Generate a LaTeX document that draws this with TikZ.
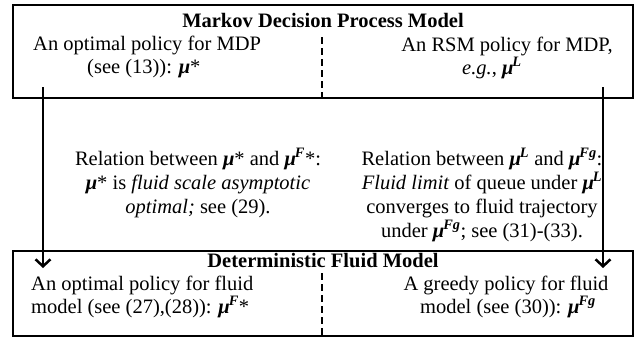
\documentclass[tikz,border=0pt]{standalone}
\usepackage{fontspec}
\setmainfont{Liberation Serif}
\usetikzlibrary{arrows.meta}
\newcommand{\mmu}{\textbf{\textit{μ}}}
\newcommand{\sps}[1]{\kern-1pt\textsuperscript{\textbf{\textit{#1}}}}
\tikzset{
  box/.style={draw, line width=2pt, rectangle, inner sep=0pt},
  txt/.style={inner sep=0pt, font=\fontsize{20.5}{24}\selectfont},
  ttl/.style={txt, font=\fontsize{20.5}{24}\selectfont\bfseries},
  divider/.style={line width=2pt, dash pattern=on 7pt off 4pt},
  arr/.style={line width=2pt, -{Straight Barb[length=7pt,width=15pt,line width=2.5pt]}}
}
\begin{document}
\begin{tikzpicture}[x=1pt,y=-1pt]
\useasboundingbox (0,0) rectangle (639,346);
% boxes
\node[box, minimum width=620pt, minimum height=93pt] (mdp) at (323,51.5) {};
\node[box, minimum width=620pt, minimum height=85pt] (fluid) at (323,293.5) {};
% dividers
\coordinate (d1a) at (322,37);
\coordinate (d1b) at (322,98);
\coordinate (d2a) at (322,273);
\coordinate (d2b) at (322,336);
\draw[divider] (d1a) -- (d1b);
\draw[divider] (d2a) -- (d2b);
% titles
\node[ttl, anchor=base] (t1) at (323,27) {Markov Decision Process Model};
\node[ttl, anchor=base] (t2) at (323,267) {Deterministic Fluid Model};
% top box texts
\node[txt, anchor=base west] (tl1) at (33,50) {An optimal policy for MDP};
\node[txt, anchor=base west] (tl2) at (87,73) {(see (13)): \mmu*};
\node[txt, anchor=base] (tr1) at (507,51) {An RSM policy for MDP,};
\node[txt, anchor=base] (tr2) at (492,74) {\textit{e.g.}, \mmu\sps{L}};
% middle texts
\node[txt, anchor=base] (ml1) at (198,165) {Relation between \mmu* and \mmu\sps{F}*:};
\node[txt, anchor=base] (ml2) at (198,189) {\mmu* is \textit{fluid scale asymptotic}};
\node[txt, anchor=base] (ml3) at (198,213) {\textit{optimal;} see (29).};
\node[txt, anchor=base] (mr1) at (482,165) {Relation between \mmu\sps{L} and \mmu\sps{Fg}:};
\node[txt, anchor=base] (mr2) at (482,189) {\textit{Fluid limit} of queue under \mmu\sps{L}};
\node[txt, anchor=base] (mr3) at (482,213) {converges to fluid trajectory};
\node[txt, anchor=base] (mr4) at (482,237) {under \mmu\sps{Fg}; see (31)-(33).};
% bottom box texts
\node[txt, anchor=base west] (bl1) at (31,290) {An optimal policy for fluid};
\node[txt, anchor=base west] (bl2) at (31,313) {model (see (27),(28)): \mmu\sps{F}*};
\node[txt, anchor=base] (br1) at (506,290) {A greedy policy for fluid};
\node[txt, anchor=base] (br2) at (508,313) {model (see (30)): \mmu\sps{Fg}};
% arrows
\coordinate (a1s) at (43,87);
\coordinate (a1e) at (43,268);
\coordinate (a2s) at (603,87);
\coordinate (a2e) at (603,268);
\draw[arr] (a1s) -- (a1e);
\draw[arr] (a2s) -- (a2e);
\end{tikzpicture}
\end{document}
